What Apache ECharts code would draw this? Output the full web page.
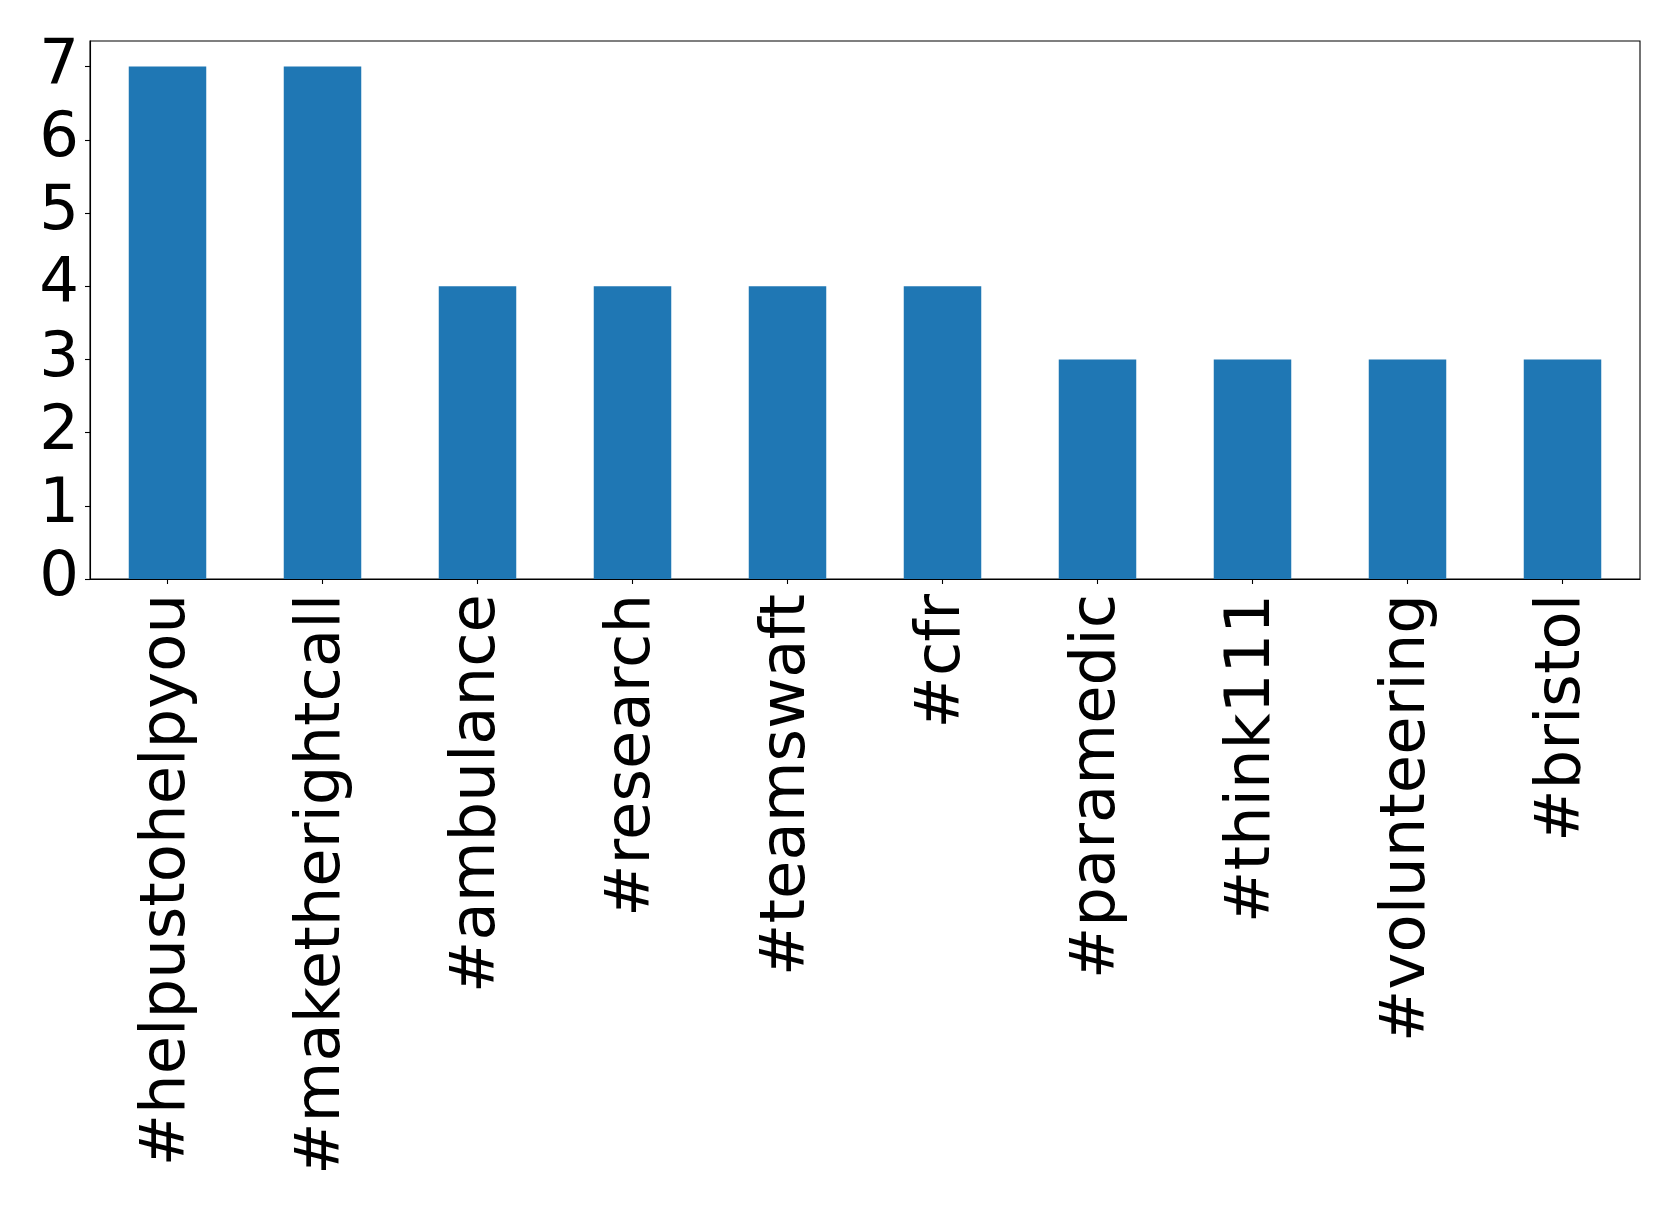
<!DOCTYPE html>
<html>
<head>
<meta charset="utf-8">
<script src="https://cdn.jsdelivr.net/npm/echarts@6/dist/echarts.min.js"></script>
<style>html,body{margin:0;padding:0;background:#fff}#chart{width:1679px;height:1209px}</style>
</head>
<body>
<div id="chart"></div>
<script>
const categories = ["#helpustohelpyou", "#maketherightcall", "#ambulance", "#research", "#teamswaft", "#cfr", "#paramedic", "#think111", "#volunteering", "#bristol"];
const counts = [7, 7, 4, 4, 4, 4, 3, 3, 3, 3];
const yTicks = [0, 1, 2, 3, 4, 5, 6, 7];

const chart = echarts.init(document.getElementById('chart'), null, {renderer: 'canvas'});
const font = 'DejaVu Sans';
chart.setOption({
  animation: false,
  backgroundColor: '#ffffff',
  grid: {left: 90, right: 39, top: 41, bottom: 630, show: true, borderColor: '#000', borderWidth: 1.1, containLabel: false},
  xAxis: {
    type: 'category',
    data: categories,
    boundaryGap: true,
    axisLine: {show: true, lineStyle: {color: '#000', width: 1.1}},
    axisTick: {show: true, alignWithLabel: true, length: 5, lineStyle: {color: '#000', width: 1.1}},
    axisLabel: {rotate: 90, fontSize: 62.5, fontFamily: font, color: '#000', margin: 15, interval: 0, padding: [12, 0, 0, 0]},
    splitLine: {show: false}
  },
  yAxis: {
    type: 'value',
    min: 0,
    max: 7.35,
    interval: 1,
    axisLine: {show: true, lineStyle: {color: '#000', width: 1.1}},
    axisTick: {show: true, length: 5, lineStyle: {color: '#000', width: 1.1}, customValues: yTicks},
    axisLabel: {fontSize: 62.5, fontFamily: font, color: '#000', margin: 11, customValues: yTicks},
    splitLine: {show: false}
  },
  series: [{
    type: 'bar',
    data: counts,
    barWidth: '50%',
    itemStyle: {color: '#1f77b4'}
  }]
});
</script>
</body>
</html>
